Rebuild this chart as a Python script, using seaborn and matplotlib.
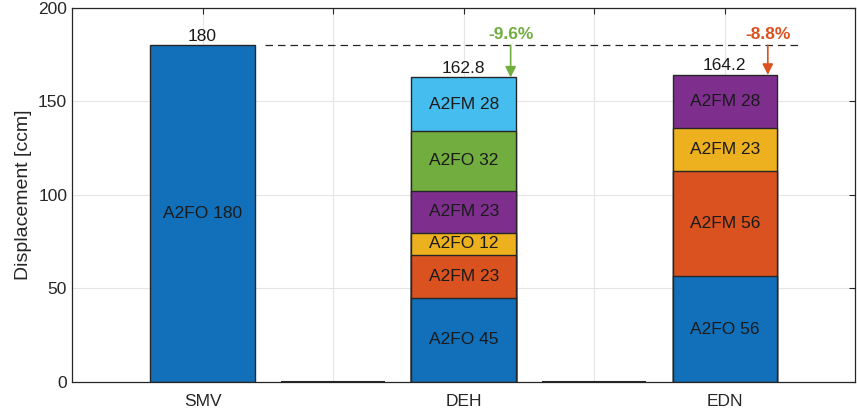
"""
Stacked displacement bars (SMV / DEH / EDN) redrawn with seaborn.
"""

import matplotlib.pyplot as plt
import numpy as np
import pandas as pd
import seaborn as sns

# data
slots = ['SMV', 'gap1', 'DEH', 'gap2', 'EDN']
slot_labels = ['SMV', '', 'DEH', '', 'EDN']
groups = ['SMV', 'DEH', 'EDN']
gaps = ['gap1', 'gap2']
smv_values = [180]
smv_labels = ['A2FO 180']
deh_values = [44.9, 22.9, 11.9, 22.5, 32.1, 28.5]
deh_labels = ['A2FO 45', 'A2FM 23', 'A2FO 12', 'A2FM 23', 'A2FO 32', 'A2FM 28']
edn_values = [56.5, 56.3, 23.0, 28.4]
edn_labels = ['A2FO 56', 'A2FM 56', 'A2FM 23', 'A2FM 28']
totals = [180, 162.8, 164.2]
total_labels = ['180', '162.8', '164.2']
change_labels = ['-9.6%', '-8.8%']
reference_value = 180

# MATLAB-like colour order
layer_colors = ['#1170B9', '#D9521F', '#EDB120', '#7E2F8E', '#72AD40',
                '#45BDEE']


def main():
    sns.set_theme(style='white')
    plt.rcParams['font.family'] = ['Liberation Sans', 'DejaVu Sans']

    fig = plt.figure(figsize=(8.57, 4.12), dpi=100)
    ax = fig.add_axes([0.084, 0.073, 0.914, 0.908])

    stacks = [smv_values, deh_values, edn_values]
    texts = [smv_labels, deh_labels, edn_labels]

    # cumulative heights, drawn from the top layer down so lower ones overlay
    n_layers = max(len(s) for s in stacks)
    for k in reversed(range(n_layers)):
        rows = []
        for g, vals in zip(groups, stacks):
            if k < len(vals):
                rows.append({'x': g, 'h': float(np.sum(vals[:k + 1]))})
        df = pd.DataFrame(rows)
        sns.barplot(data=df, x='x', y='h', order=slots, width=0.8,
                    color=layer_colors[k], saturation=1, edgecolor='#262626',
                    linewidth=1.0, ax=ax, errorbar=None)

    # empty slots between the groups
    gap_df = pd.DataFrame({'x': gaps, 'h': [0.0, 0.0]})
    sns.barplot(data=gap_df, x='x', y='h', order=slots, width=0.8,
                color='white', edgecolor='#262626', linewidth=1.5, ax=ax,
                errorbar=None)

    # segment labels
    for g, vals, labs in zip(groups, stacks, texts):
        pos = slots.index(g)
        bottom = 0
        for v, lab in zip(vals, labs):
            ax.text(pos, bottom + v / 2, lab, ha='center', va='center',
                    fontsize=12.5, color='#1a1a1a')
            bottom += v

    # totals
    for g, tot, lab in zip(groups, totals, total_labels):
        ax.text(slots.index(g), tot + 0.8, lab, ha='center', va='bottom',
                fontsize=12.5, color='#1a1a1a')

    # reference line and arrows
    ax.plot([0.48, 4.56], [reference_value, reference_value],
            linestyle=(0, (6, 4)), color='#262626', linewidth=0.9)
    arrow_colors = ['#72AD40', '#D9521F']
    arrow_x = [2.36, 4.33]
    for xa, tot, lab, c in zip(arrow_x, totals[1:], change_labels,
                               arrow_colors):
        ax.annotate('', xy=(xa, tot), xytext=(xa, reference_value),
                    arrowprops=dict(arrowstyle='-|>', color=c, lw=1.2,
                                    mutation_scale=16, shrinkA=0, shrinkB=0))
        ax.text(xa, reference_value + 1.5, lab, ha='center', va='bottom',
                fontsize=12.5, fontweight='bold', color=c)

    ax.set_xlim(-1, 5)
    ax.set_ylim(0, 200)
    ax.set_xticks(range(len(slots)))
    ax.set_xticklabels(slot_labels)
    ax.set_yticks([0, 50, 100, 150, 200])
    ax.set_xlabel('')
    ax.set_ylabel('Displacement [ccm]', fontsize=14, color='#262626')
    ax.tick_params(direction='in', top=True, right=True, length=4,
                   width=0.8, color='#262626', labelsize=12.5,
                   labelcolor='#262626')
    ax.tick_params(axis='x', pad=9)
    ax.grid(True, color='#e5e5e5', linewidth=0.8)
    ax.set_axisbelow(True)
    for s in ax.spines.values():
        s.set_color('#262626')
        s.set_linewidth(0.9)

    fig.savefig('out.png', dpi=100)


if __name__ == '__main__':
    main()
